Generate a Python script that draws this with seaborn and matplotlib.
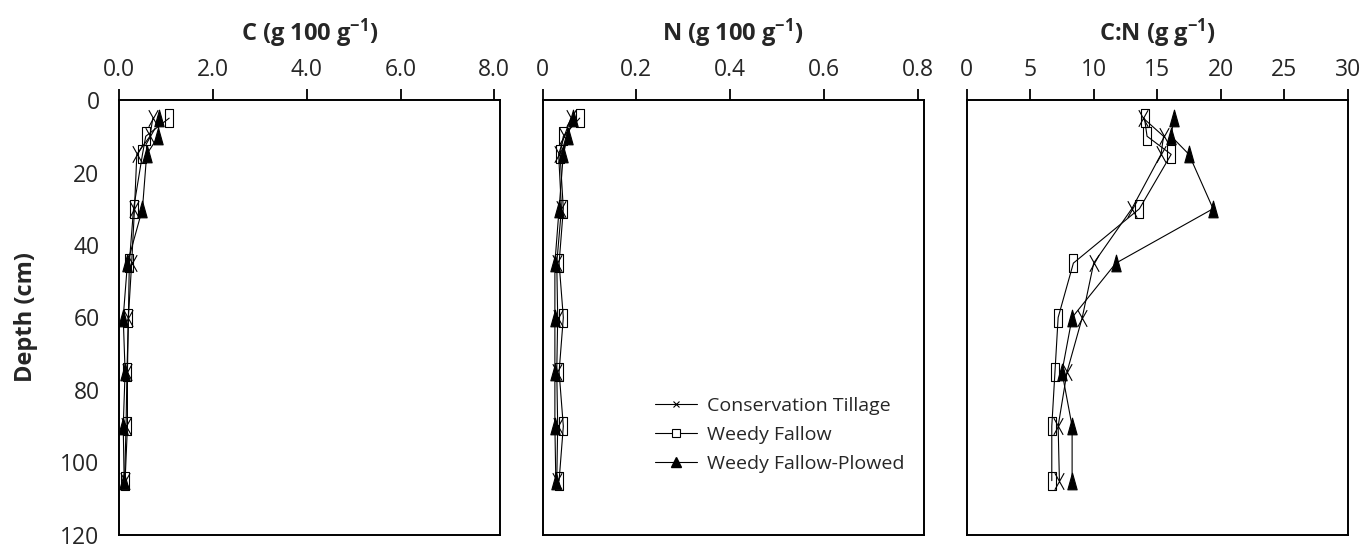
import numpy as np
import pandas as pd
import matplotlib
matplotlib.use("Agg")
import matplotlib.pyplot as plt
import matplotlib.path as mpath
from matplotlib.lines import Line2D
import seaborn as sns

# datos
depth = [5, 10, 15, 30, 45, 60, 75, 90, 105]
treatments = ["Conservation Tillage", "Weedy Fallow", "Weedy Fallow-Plowed"]

c_ct = [0.72, 0.66, 0.38, 0.33, 0.27, 0.20, 0.17, 0.15, 0.12]
c_wf = [1.07, 0.57, 0.50, 0.31, 0.22, 0.20, 0.18, 0.18, 0.13]
c_wfp = [0.85, 0.84, 0.59, 0.50, 0.18, 0.09, 0.13, 0.09, 0.11]

n_ct = [0.060, 0.046, 0.034, 0.040, 0.030, 0.032, 0.030, 0.032, 0.030]
n_wf = [0.079, 0.044, 0.037, 0.044, 0.035, 0.044, 0.035, 0.044, 0.035]
n_wfp = [0.065, 0.053, 0.044, 0.035, 0.026, 0.026, 0.026, 0.026, 0.028]

cn_ct = [13.9, 15.5, 15.3, 13.0, 10.0, 9.1, 7.9, 7.2, 7.3]
cn_wf = [14.0, 14.2, 16.1, 13.6, 8.4, 7.2, 6.95, 6.7, 6.7]
cn_wfp = [16.3, 16.1, 17.5, 19.4, 11.75, 8.3, 7.5, 8.3, 8.3]

titles = ["C (g 100 g$^{-1}$)", "N (g 100 g$^{-1}$)", "C:N (g g$^{-1}$)"]
xticks = [[0, 2, 4, 6, 8], [0, 0.2, 0.4, 0.6, 0.8], [0, 5, 10, 15, 20, 25, 30]]
xticklabels = [["0.0", "2.0", "4.0", "6.0", "8.0"],
               ["0", "0.2", "0.4", "0.6", "0.8"],
               ["0", "5", "10", "15", "20", "25", "30"]]
xlims = [(0, 8.12), (0, 0.813), (0, 30)]
yticks = [0, 20, 40, 60, 80, 100, 120]

# tabla larga
rows = []
for var, series in [("C", [c_ct, c_wf, c_wfp]),
                    ("N", [n_ct, n_wf, n_wfp]),
                    ("CN", [cn_ct, cn_wf, cn_wfp])]:
    for t, vals in zip(treatments, series):
        for d, v in zip(depth, vals):
            rows.append({"var": var, "Treatment": t, "Depth": d, "value": v})
df = pd.DataFrame(rows)

sns.set_theme(style="white")
plt.rcParams["font.family"] = ["Open Sans", "DejaVu Sans"]
plt.rcParams["mathtext.default"] = "regular"

# marcadores "estirados" como en la imagen original
rect = mpath.Path([(-0.23, -0.5), (0.23, -0.5), (0.23, 0.5), (-0.23, 0.5), (-0.23, -0.5)], closed=True)
tri = mpath.Path([(-0.28, -0.5), (0.28, -0.5), (0.0, 0.5), (-0.28, -0.5)], closed=True)
cross = mpath.Path([(-0.28, -0.5), (0.28, 0.5), (-0.28, 0.5), (0.28, -0.5)],
                   [mpath.Path.MOVETO, mpath.Path.LINETO, mpath.Path.MOVETO, mpath.Path.LINETO])
styles = {
    "Conservation Tillage": dict(marker=cross, markersize=12, mfc="none"),
    "Weedy Fallow": dict(marker=rect, markersize=13, mfc="none"),
    "Weedy Fallow-Plowed": dict(marker=tri, markersize=12, mfc="black"),
}

fig = plt.figure(figsize=(13.65, 5.48), dpi=100)
lefts = [119 / 1365, 542.7 / 1365, 966.7 / 1365]
width = 381 / 1365
top_px, bot_px = 100, 535
bottom = 1 - bot_px / 548
height = (bot_px - top_px) / 548

for i, var in enumerate(["C", "N", "CN"]):
    ax = fig.add_axes([lefts[i], bottom, width, height])
    sub = df[df["var"] == var]
    for t in treatments:
        d = sub[sub["Treatment"] == t]
        sns.lineplot(x=d["value"], y=d["Depth"], orient="y", errorbar=None, color="black",
                     lw=0.8, mec="black", mew=0.8, ax=ax, legend=False, **styles[t])
    ax.set_xlim(*xlims[i])
    ax.set_ylim(120, 0)
    ax.xaxis.tick_top()
    ax.xaxis.set_label_position("top")
    ax.set_xticks(xticks[i])
    ax.set_xticklabels(xticklabels[i])
    ax.set_yticks(yticks)
    ax.set_xlabel(titles[i], fontsize=17, fontweight="bold", labelpad=12)
    ax.tick_params(axis="both", direction="out", length=8, width=1.3, labelsize=16.5,
                   color="black", pad=5)
    ax.tick_params(axis="y", pad=6)
    if i == 0:
        ax.set_ylabel("Depth (cm)", fontsize=17, fontweight="bold", labelpad=16)
    else:
        ax.set_ylabel("")
        ax.set_yticklabels([])
    for s in ax.spines.values():
        s.set_visible(True)
        s.set_color("black")
        s.set_linewidth(1.4)
    ax.set_facecolor("white")

    if i == 1:
        handles = [
            Line2D([], [], color="black", lw=0.8, marker="x", ms=4, mew=0.8),
            Line2D([], [], color="black", lw=0.8, marker="s", ms=6, mfc="white", mew=0.8),
            Line2D([], [], color="black", lw=0.8, marker="^", ms=7, mfc="black"),
        ]
        ax.legend(handles, treatments, loc="center left", bbox_to_anchor=(0.294, 0.23),
                  frameon=False, fontsize=14, handlelength=2.2, handletextpad=0.5,
                  labelspacing=0.55, borderpad=0, borderaxespad=0)

fig.savefig("out.png", dpi=100, facecolor="white")
